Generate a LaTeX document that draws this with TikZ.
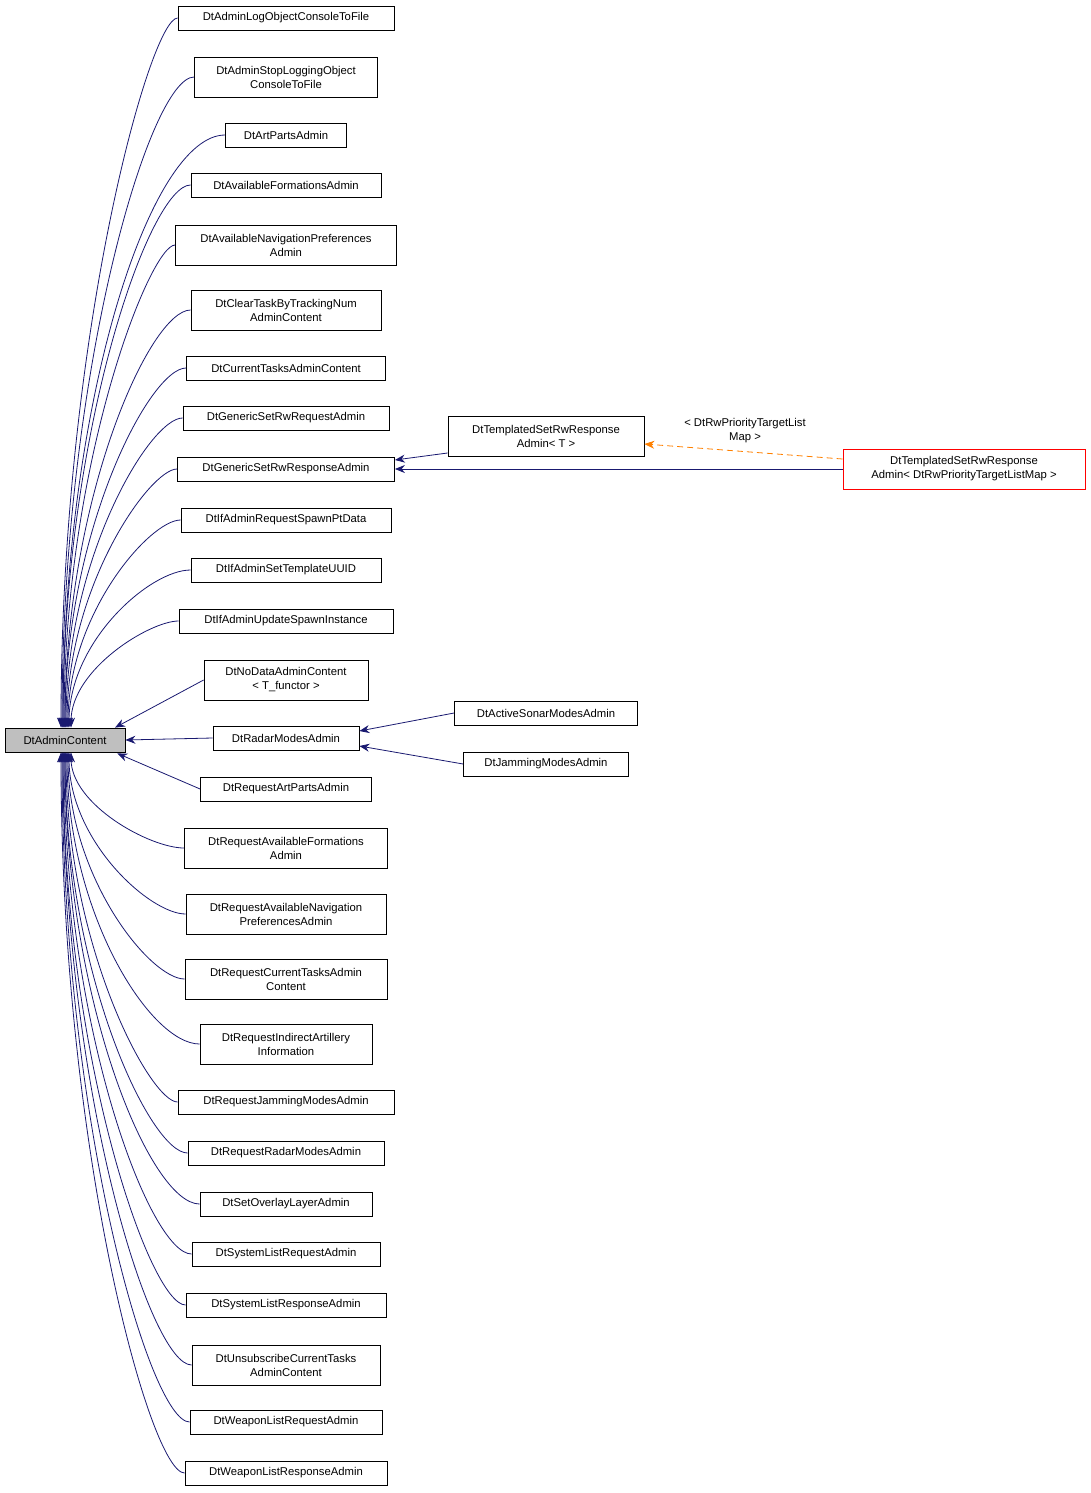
\documentclass[tikz,border=0pt]{standalone}
\usepackage{fontspec}
\setmainfont{Liberation Sans}
\usetikzlibrary{arrows.meta}
\definecolor{navy}{RGB}{25,25,112}
\definecolor{redb}{RGB}{255,0,0}
\begin{document}
\begin{tikzpicture}[x=1pt,y=-1pt,
  box/.style={draw=black,fill=white,inner sep=0pt,align=center,font=\fontsize{11.3}{14}\selectfont,line width=0.8pt},
  inh/.style={draw=navy,line width=0.8pt,-{Stealth[length=10pt,width=8pt,fill=navy]}},
  tmpl/.style={draw=orange,dashed,dash pattern=on 6pt off 4pt,line width=0.8pt,-{Stealth[length=10pt,width=8pt]}}]
\useasboundingbox (0,0) rectangle (1091,1493);
\node[box,fill={rgb,255:red,191;green,191;blue,191},minimum width=120,minimum height=24] (root) at (65,740) {DtAdminContent};
\newcommand{\cnode}[5]{\node[box,minimum width=#3,minimum height=#4] (#1) at (#2) {#5};}
\cnode{n1}{286,18}{216}{24}{DtAdminLogObjectConsoleToFile}
\cnode{n2}{286,77}{183}{40}{DtAdminStopLoggingObject\\ConsoleToFile}
\cnode{n3}{286,135}{121}{24}{DtArtPartsAdmin}
\cnode{n4}{286,185}{190}{24}{DtAvailableFormationsAdmin}
\cnode{n5}{286,245}{221}{40}{DtAvailableNavigationPreferences\\Admin}
\cnode{n6}{286,310}{190}{40}{DtClearTaskByTrackingNum\\AdminContent}
\cnode{n7}{286,368}{199}{24}{DtCurrentTasksAdminContent}
\cnode{n8}{286,418}{206}{24}{DtGenericSetRwRequestAdmin}
\cnode{n9}{286,469}{217}{24}{DtGenericSetRwResponseAdmin}
\cnode{n10}{286,520}{210}{24}{DtIfAdminRequestSpawnPtData}
\cnode{n11}{286,570}{190}{24}{DtIfAdminSetTemplateUUID}
\cnode{n12}{286,621}{214}{24}{DtIfAdminUpdateSpawnInstance}
\cnode{n13}{286,680}{164}{40}{DtNoDataAdminContent\\< T\_functor >}
\cnode{n14}{286,738}{146}{24}{DtRadarModesAdmin}
\cnode{n15}{286,789}{171}{24}{DtRequestArtPartsAdmin}
\cnode{n16}{286,848}{203}{40}{DtRequestAvailableFormations\\Admin}
\cnode{n17}{286,914}{200}{40}{DtRequestAvailableNavigation\\PreferencesAdmin}
\cnode{n18}{286,979}{202}{40}{DtRequestCurrentTasksAdmin\\Content}
\cnode{n19}{286,1044}{172}{40}{DtRequestIndirectArtillery\\Information}
\cnode{n20}{286,1102}{216}{24}{DtRequestJammingModesAdmin}
\cnode{n21}{286,1153}{196}{24}{DtRequestRadarModesAdmin}
\cnode{n22}{286,1204}{172}{24}{DtSetOverlayLayerAdmin}
\cnode{n23}{286,1254}{188}{24}{DtSystemListRequestAdmin}
\cnode{n24}{286,1305}{200}{24}{DtSystemListResponseAdmin}
\cnode{n25}{286,1365}{188}{40}{DtUnsubscribeCurrentTasks\\AdminContent}
\cnode{n26}{286,1422}{192}{24}{DtWeaponListRequestAdmin}
\cnode{n27}{286,1473}{202}{24}{DtWeaponListResponseAdmin}
\cnode{t1}{546,436}{196}{40}{DtTemplatedSetRwResponse\\Admin< T >}
\node[box,draw=redb,minimum width=242,minimum height=40] (t2) at (964,469) {DtTemplatedSetRwResponse\\Admin< DtRwPriorityTargetListMap >};
\cnode{s1}{546,713}{183}{24}{DtActiveSonarModesAdmin}
\cnode{s2}{546,764}{165}{24}{DtJammingModesAdmin}
% upper children
\foreach \n/\y/\dx in {n1/18/-4,n2/77/-3,n3/135/-2,n4/185/-2,n5/245/-1,n6/310/0,n7/368/0,n8/418/1,n9/469/2,n10/520/3,n11/570/4,n12/621/6} {
  \pgfmathsetmacro{\cy}{\y+0.45*(728-\y)}
  \pgfmathsetmacro{\cx}{65+\dx}
  \draw[inh] (\n.west) .. controls (150,\y) and (\cx,\cy) .. ([xshift=\dx pt]root.north);
}
\draw[inh] (n13.west) -- ([xshift=50pt]root.north);
\draw[inh] (n14.west) -- (root.east);
\draw[inh] (n15.west) -- ([xshift=-8pt,yshift=-1pt]root.south east);
\foreach \n/\y/\dx in {n16/848/6,n17/914/4,n18/979/3,n19/1044/2,n20/1102/1,n21/1153/0,n22/1204/0,n23/1254/-1,n24/1305/-2,n25/1365/-2,n26/1422/-3,n27/1473/-4} {
  \pgfmathsetmacro{\cy}{\y-0.45*(\y-752)}
  \pgfmathsetmacro{\cx}{65+\dx}
  \draw[inh] (\n.west) .. controls (150,\y) and (\cx,\cy) .. ([xshift=\dx pt]root.south);
}
\draw[inh] (t1.west|-453,453) -- ([yshift=9pt]n9.east);
\draw[inh] (t2.west) -- (n9.east);
\draw[inh] (s1.west) -- ([yshift=7pt]n14.east);
\draw[inh] (s2.west) -- ([yshift=-8pt]n14.east);
\draw[tmpl] ([yshift=10pt]t2.west) -- ([yshift=-8pt]t1.east);
\node[align=center,font=\fontsize{11.3}{14}\selectfont] (lab) at (745,431) {< DtRwPriorityTargetList\\Map >};
\end{tikzpicture}
\end{document}
